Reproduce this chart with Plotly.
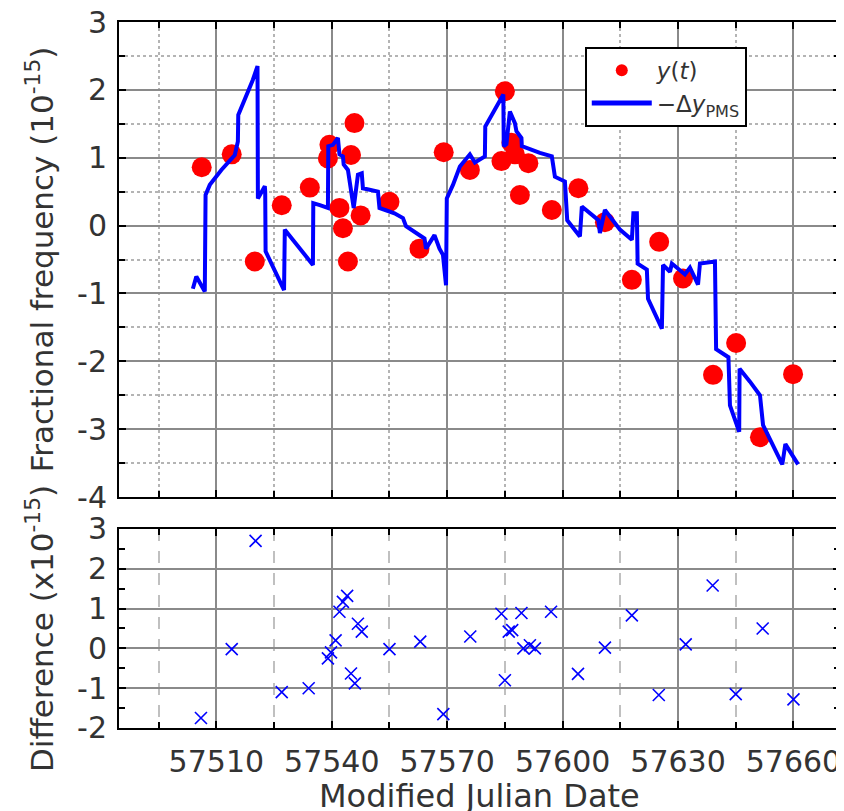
import plotly.graph_objects as go

# ---------------- data ----------------
# measured y(t) (red dots), units 1e-15
dot_mjd = [57506.2, 57514.0, 57520.0, 57527.0, 57534.3, 57539.0, 57539.4, 57542.0,
           57542.9, 57544.2, 57545.0, 57545.9, 57547.5, 57555.0, 57562.8, 57569.1,
           57575.9, 57585.0, 57584.1, 57586.7, 57587.6, 57588.9, 57591.1, 57597.2,
           57604.1, 57611.0, 57618.0, 57625.1, 57631.3, 57639.1, 57645.1, 57651.3,
           57659.9]
dot_y = [0.86, 1.05, -0.53, 0.30, 0.56, 0.99, 1.19, 0.26,
         -0.04, -0.53, 1.04, 1.51, 0.15, 0.35, -0.34, 1.08,
         0.82, 1.98, 0.95, 1.22, 1.05, 0.45, 0.92, 0.23,
         0.55, 0.05, -0.80, -0.24, -0.78, -2.20, -1.73, -3.12,
         -2.19]

# -Delta y_PMS (blue line) vertices
pms_mjd = [57503.9, 57504.8, 57507.0, 57507.2, 57508.3, 57511.3, 57514.8, 57515.6,
           57515.7, 57517.8, 57519.5, 57520.7, 57520.8, 57521.8, 57522.6, 57522.7,
           57522.8, 57527.6, 57527.8, 57535.1, 57535.2, 57536.9, 57539.0, 57539.1,
           57540.3, 57541.6, 57542.0, 57542.9, 57543.1, 57544.2, 57545.0, 57545.5,
           57545.7, 57546.8, 57547.8, 57548.1, 57552.0, 57552.4, 57556.3, 57558.5,
           57559.3, 57564.1, 57564.5, 57566.7, 57568.0, 57568.9, 57569.7, 57569.9,
           57571.5, 57573.3, 57575.9, 57577.2, 57578.5, 57579.8, 57579.9, 57580.7,
           57584.6, 57584.7, 57585.4, 57586.3, 57587.6, 57588.0, 57589.3, 57589.4,
           57594.1, 57597.2, 57598.0, 57600.6, 57601.2, 57604.5, 57605.0, 57609.3,
           57609.7, 57611.0, 57613.6, 57614.9, 57618.0, 57618.4, 57619.3, 57619.5,
           57621.9, 57622.2, 57625.8, 57626.1, 57627.9, 57628.4, 57631.8, 57633.1,
           57635.2, 57635.7, 57639.6, 57639.9, 57643.1, 57643.5, 57645.9, 57646.0,
           57648.7, 57651.3, 57652.1, 57657.1, 57657.9, 57661.2]
pms_y = [-0.93, -0.75, -0.97, 0.45, 0.60, 0.82, 1.04, 1.24,
         1.63, 1.90, 2.15, 2.35, 0.40, 0.50, 0.58, 0.50,
         -0.38, -0.95, -0.06, -0.58, 0.33, 0.30, 0.26, 1.17,
         1.19, 1.29, 1.05, 1.02, 0.90, 0.82, 0.50, 0.35,
         0.26, 0.75, 0.77, 0.55, 0.50, 0.26, 0.18, 0.11,
         -0.01, -0.19, -0.34, -0.14, -0.34, -0.43, -0.88, 0.40,
         0.60, 0.87, 1.05, 0.93, 0.97, 1.02, 1.46, 1.54,
         1.93, 1.17, 1.20, 1.68, 1.51, 1.39, 1.29, 1.17,
         1.07, 1.02, 0.72, 0.65, 0.08, -0.16, 0.28, 0.08,
         -0.11, 0.23, 0.03, -0.06, -0.21, 0.18, 0.18, -0.56,
         -0.65, -1.08, -1.52, -0.58, -0.68, -0.56, -0.72, -0.62,
         -0.87, -0.56, -0.53, -1.82, -1.94, -2.65, -3.04, -2.11,
         -2.30, -2.50, -2.94, -3.52, -3.22, -3.52]

# difference (blue crosses), units 1e-15
diff_mjd = [57506.0, 57514.0, 57520.2, 57527.0, 57534.0, 57539.0, 57539.8, 57541.0,
            57542.0, 57542.9, 57544.0, 57545.0, 57546.0, 57546.8, 57547.8, 57555.0,
            57563.0, 57569.0, 57576.0, 57584.1, 57585.0, 57586.0, 57586.9, 57589.3,
            57589.8, 57591.5, 57592.8, 57597.0, 57604.0, 57611.0, 57618.0, 57625.0,
            57632.0, 57639.0, 57645.0, 57652.0, 57660.0]
diff_y = [-1.75, -0.02, 2.70, -1.10, -1.00, -0.25, -0.10, 0.20,
          0.92, 1.17, 1.32, -0.63, -0.88, 0.62, 0.42, -0.02,
          0.17, -1.65, 0.30, 0.87, -0.80, 0.42, 0.46, 0.89,
          0.00, 0.08, 0.00, 0.92, -0.64, 0.02, 0.83, -1.17,
          0.10, 1.58, -1.15, 0.50, -1.28]

x_tickvals = [57510, 57540, 57570, 57600, 57630, 57660]
x_ticktext = ["57510", "57540", "57570", "57600", "57630", "57660"]
top_y_ticks = [-4, -3, -2, -1, 0, 1, 2, 3]
bot_y_ticks = [-2, -1, 0, 1, 2, 3]

# ---------------- figure ----------------
FONT = "DejaVu Sans"
TICKC = "#333333"
GRIDC = "#8a8a8a"
MINC = "#b4b4b4"
XR = [57484.7, 57672.1]

fig = go.Figure()
fig.add_trace(go.Scatter(
    x=dot_mjd, y=dot_y, mode="markers", name="<i>y</i>(<i>t</i>)",
    marker=dict(symbol="circle", size=20, color="#ff0000", line=dict(width=0)),
    xaxis="x", yaxis="y"))
fig.add_trace(go.Scatter(
    x=pms_mjd, y=pms_y, mode="lines", name="\u2212\u0394<i>y</i><sub>PMS</sub>",
    line=dict(color="#0000ff", width=4),
    xaxis="x", yaxis="y"))
fig.add_trace(go.Scatter(
    x=diff_mjd, y=diff_y, mode="markers", showlegend=False,
    marker=dict(symbol="x-thin", size=12, color="#0000ff",
                line=dict(color="#0000ff", width=1.6)),
    xaxis="x2", yaxis="y2"))

axis_common = dict(showline=True, linecolor="black", linewidth=2, mirror="allticks",
                   ticks="inside", ticklen=7, tickcolor="black", tickwidth=2,
                   zeroline=False, showgrid=True, gridcolor=GRIDC, gridwidth=2,
                   automargin=False, ticklabeloverflow="allow",
                   tickfont=dict(family=FONT, size=30, color=TICKC))

fig.update_layout(
    width=836, height=803,
    paper_bgcolor="white", plot_bgcolor="white",
    margin=dict(l=111, r=4, t=14, b=83),
    font=dict(family=FONT, color=TICKC),
    xaxis=dict(domain=[0, 1], anchor="y", range=XR, tickvals=x_tickvals,
               showticklabels=False,
               minor=dict(dtick=15, tick0=57510, ticks="inside", ticklen=6,
                          tickcolor="black", tickwidth=2, showgrid=True,
                          gridcolor=MINC, griddash="dot", gridwidth=1.5),
               **axis_common),
    yaxis=dict(domain=[0.3272, 1], anchor="x", range=[-4, 3], tickvals=top_y_ticks,
               ticktext=[str(v) for v in top_y_ticks],
               ticklabelstandoff=4,
               title=dict(text="Fractional frequency (10<sup>-15</sup>)",
                          font=dict(family=FONT, size=31, color=TICKC), standoff=14),
               minor=dict(dtick=0.5, tick0=0, ticks="inside", ticklen=6,
                          tickcolor="black", tickwidth=2, showgrid=True,
                          gridcolor=MINC, griddash="dot", gridwidth=1.5),
               **axis_common),
    xaxis2=dict(domain=[0, 1], anchor="y2", range=XR, tickvals=x_tickvals,
                ticktext=x_ticktext, ticklabelstandoff=6,
                minor=dict(dtick=15, tick0=57510, ticks="inside", ticklen=6,
                           tickcolor="black", tickwidth=2, showgrid=True,
                           gridcolor="#c0c0c0", griddash="12px,10px", gridwidth=2),
                **axis_common),
    yaxis2=dict(domain=[0, 0.2819], anchor="x2", range=[-2, 3], tickvals=bot_y_ticks,
                ticktext=[str(v) for v in bot_y_ticks],
                ticklabelstandoff=4,
                title=dict(text="Difference (x10<sup>-15</sup>)",
                           font=dict(family=FONT, size=31, color=TICKC), standoff=14),
                minor=dict(dtick=0.5, tick0=0, ticks="inside", ticklen=6,
                           tickcolor="black", tickwidth=2, showgrid=False),
                **axis_common),
    annotations=[dict(text="Modified Julian Date", x=0.5, y=-0.0963,
                      xref="paper", yref="paper", xanchor="center", yanchor="middle",
                      showarrow=False, font=dict(family=FONT, size=32, color=TICKC))],
    legend=dict(x=0.646, y=0.965, xanchor="left", yanchor="top",
                bgcolor="white", bordercolor="black", borderwidth=2,
                font=dict(family=FONT, size=23, color=TICKC),
                itemwidth=60, tracegroupgap=0, itemsizing="constant"),
    showlegend=True,
)

fig.write_html("out.html")
